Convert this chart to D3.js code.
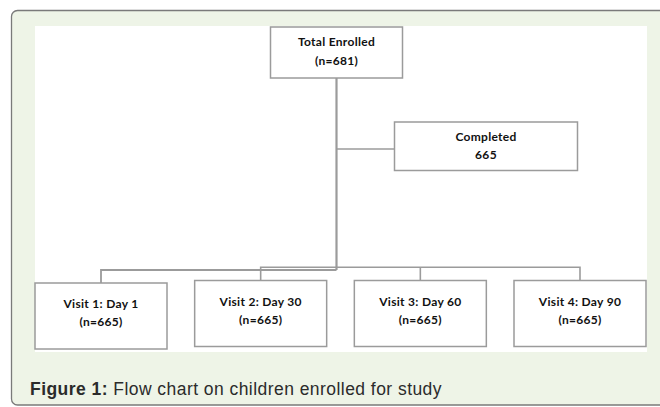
<!DOCTYPE html>
<html>
<head>
<meta charset="utf-8">
<script src="https://cdn.jsdelivr.net/npm/d3@7"></script>
<style>
  html, body { margin: 0; padding: 0; background: #fff; }
  svg { display: block; }
</style>
</head>
<body>
<svg id="chart" width="660" height="407"></svg>
<script>
// flow chart contents
const rootLabel = ['Total Enrolled', '(n=681)'];
const completedLabel = ['Completed', '665'];
const visits = ['Visit 1: Day 1', 'Visit 2: Day 30', 'Visit 3: Day 60', 'Visit 4: Day 90'];
const visitCounts = [665, 665, 665, 665];
const captionBold = 'Figure 1:';
const captionText = ' Flow chart on children enrolled for study';

const svg = d3.select('#chart');
const lineColor = '#9b9b9b';
const boxFont = 'Lato, "Open Sans", sans-serif';

// outer frame + white panel
svg.append('rect')
    .attr('x', 11.5).attr('y', 10.5)
    .attr('width', 700).attr('height', 394.5)
    .attr('rx', 6)
    .attr('fill', '#eef4e7')
    .attr('stroke', '#7a7a7a')
    .attr('stroke-width', 1.3);

svg.append('rect')
    .attr('x', 35).attr('y', 26)
    .attr('width', 612).attr('height', 326)
    .attr('fill', '#fff');

// visit boxes laid out on a point scale
const x = d3.scalePoint().domain(visits).range([101, 580]);
const visitW = 132, visitH = 66, visitTop = 280.5;
const rootX = 336.5;

const lines = svg.append('g')
    .attr('fill', 'none')
    .attr('stroke', lineColor);

// main trunk
lines.append('line')
    .attr('x1', rootX).attr('y1', 78).attr('x2', rootX).attr('y2', 270)
    .attr('stroke-width', 2.2);
// branch to completed
lines.append('line')
    .attr('x1', rootX).attr('y1', 149).attr('x2', 395).attr('y2', 149)
    .attr('stroke-width', 1.6);

// left connector (visit 1)
lines.append('path')
    .attr('d', `M${rootX},270 H${x(visits[0])} V283`)
    .attr('stroke-width', 1.8);
// right connector (visits 2-4)
lines.append('path')
    .attr('d', `M${x(visits[1])},${visitTop} V267.3 H${x(visits[3])} V${visitTop}`)
    .attr('stroke-width', 1.6);
lines.append('line')
    .attr('x1', x(visits[2])).attr('y1', 267.3).attr('x2', x(visits[2])).attr('y2', visitTop)
    .attr('stroke-width', 1.6);

function drawBox(cx, top, w, h, label, dy1, dy2) {
    const g = svg.append('g');
    g.append('rect')
        .attr('x', cx - w / 2).attr('y', top)
        .attr('width', w).attr('height', h)
        .attr('fill', '#fff')
        .attr('stroke', lineColor)
        .attr('stroke-width', 1.5);
    g.selectAll('text')
        .data(label)
        .join('text')
        .attr('x', cx)
        .attr('y', (d, i) => top + (i === 0 ? dy1 : dy2))
        .attr('text-anchor', 'middle')
        .attr('font-family', boxFont)
        .attr('font-weight', 'bold')
        .attr('font-size', 12)
        .attr('letter-spacing', 0.3)
        .attr('fill', '#111')
        .text(d => d);
}

drawBox(rootX, 27, 132, 51, rootLabel, 19, 38);
drawBox(486, 122, 183, 48.5, completedLabel, 18.5, 36.5);

visits.forEach((v, i) => {
    const top = i === 0 ? 283 : visitTop;
    drawBox(x(v), top, visitW, visitH, [v, `(n=${visitCounts[i]})`], 25, 43);
});

// caption
const cap = svg.append('text')
    .attr('x', 30).attr('y', 395)
    .attr('font-family', '"Liberation Sans", Arial, sans-serif')
    .attr('font-size', 17.5)
    .attr('letter-spacing', 0.45)
    .attr('fill', '#2b2b2b');
cap.append('tspan').attr('font-weight', 'bold').text(captionBold);
cap.append('tspan').text(captionText);
</script>
</body>
</html>
